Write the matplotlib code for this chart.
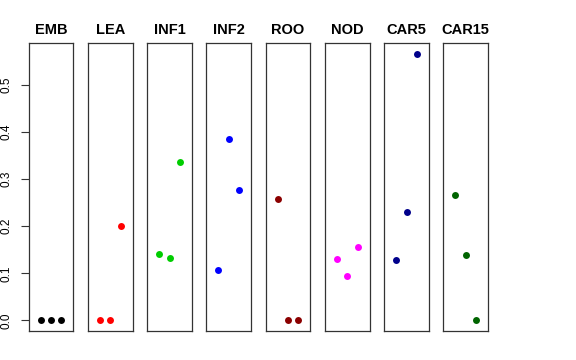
import matplotlib
matplotlib.use("Agg")
import matplotlib.pyplot as plt

plt.rcParams['font.family'] = ['Liberation Sans', 'DejaVu Sans']

groups = ["EMB", "LEA", "INF1", "INF2", "ROO", "NOD", "CAR5", "CAR15"]
colors = ["#000000", "#FF0000", "#00CD00", "#0000FF", "#8B0000", "#FF00FF", "#00008B", "#006400"]
values = {
    "EMB":   [0.0, 0.0, 0.0],
    "LEA":   [0.0, 0.0, 0.201],
    "INF1":  [0.141, 0.132, 0.336],
    "INF2":  [0.107, 0.386, 0.277],
    "ROO":   [0.259, 0.0, 0.0],
    "NOD":   [0.130, 0.095, 0.156],
    "CAR5":  [0.1275, 0.2295, 0.5665],
    "CAR15": [0.266, 0.139, 0.0],
}
positions = [1, 2, 3]
yticks = [0.0, 0.1, 0.2, 0.3, 0.4, 0.5]

W, H = 576, 360
fig = plt.figure(figsize=(W / 100, H / 100), dpi=100)

ymax = max(max(v) for v in values.values())
ymin = 0.0
yr = ymax - ymin
ylim = (ymin - 0.04 * yr, ymax + 0.04 * yr)
xlim = (0 - 0.04 * 4, 4 + 0.04 * 4)

left0 = 28.7
step = 59.25
pw = 44.6
top = 43.3
bottom = 331.0

for i, g in enumerate(groups):
    x0 = left0 + i * step
    ax = fig.add_axes([x0 / W, (H - bottom) / H, pw / W, (bottom - top) / H])
    ax.plot(positions, values[g], 'o', color=colors[i], ms=5, mec='none')
    ax.set_xlim(*xlim)
    ax.set_ylim(*ylim)
    ax.set_xticks([])
    for s in ax.spines.values():
        s.set_linewidth(0.9)
        s.set_color('#333333')
    ax.set_title(g, fontsize=10.5, fontweight='bold', pad=6.5)
    if i == 0:
        ax.set_yticks(yticks)
        ax.set_yticklabels([f"{t:.1f}" for t in yticks], rotation=90, va='center', fontsize=8.5)
        ax.tick_params(axis='y', length=5.5, width=0.8, pad=6, color='#333333')
    else:
        ax.set_yticks([])

fig.savefig("out.png", dpi=100)
